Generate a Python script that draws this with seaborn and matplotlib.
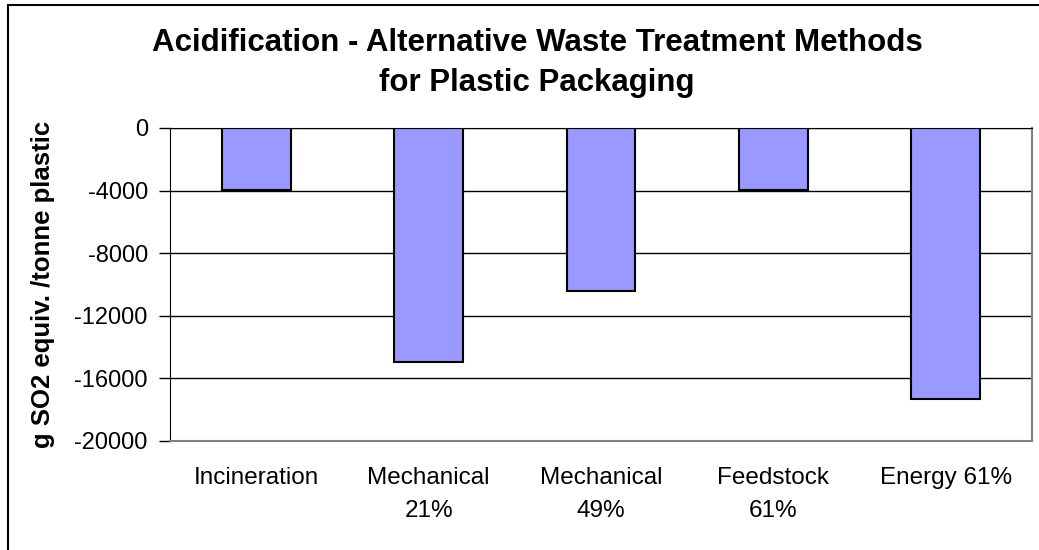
import seaborn as sns
import matplotlib.pyplot as plt
from matplotlib.lines import Line2D
import pandas as pd

# values
methods = ["Incineration", "Mechanical\n21%", "Mechanical\n49%", "Feedstock\n61%", "Energy 61%"]
acidification = [-3950, -14950, -10450, -3950, -17350]
y_ticks = [0, -4000, -8000, -12000, -16000, -20000]

df = pd.DataFrame({"method": methods, "value": acidification})

sns.set_style("white")
plt.rcParams["font.family"] = ["Liberation Sans", "DejaVu Sans"]
plt.rcParams["text.color"] = "black"
plt.rcParams["xtick.color"] = "black"
plt.rcParams["ytick.color"] = "black"
plt.rcParams["axes.labelcolor"] = "black"

fig = plt.figure(figsize=(10.39, 5.5), dpi=100)
ax = fig.add_axes([0.1636, 0.1987, 0.8297, 0.5686])

sns.barplot(data=df, x="method", y="value", color="#9999FF", saturation=1,
            edgecolor="black", linewidth=1.5, width=0.4, ax=ax)

ax.set_ylim(-20000, 0)
ax.set_xlim(-0.5, len(methods) - 0.5)
ax.set_yticks(y_ticks)
ax.set_yticklabels([str(t) for t in y_ticks])
ax.yaxis.grid(True, color="black", linewidth=1)
ax.set_axisbelow(True)

ax.tick_params(axis="y", direction="out", length=8, width=1,
               labelsize=17, pad=8, left=True)
ax.tick_params(axis="x", length=0, labelsize=17.5, pad=19)
for lbl in ax.get_xticklabels():
    lbl.set_linespacing(1.65)
    lbl.set_verticalalignment("top")

ax.set_xlabel("")
ax.set_ylabel("g SO2 equiv. /tonne plastic", fontsize=18.5, fontweight="bold", labelpad=14)

for side in ["right", "bottom"]:
    ax.spines[side].set_color("#808080")
    ax.spines[side].set_linewidth(1.5)
ax.spines["left"].set_color("black")
ax.spines["top"].set_color("black")

fig.text(0.517, 0.886, "Acidification - Alternative Waste Treatment Methods\nfor Plastic Packaging",
         ha="center", va="center", fontsize=22.5, fontweight="bold", linespacing=1.45)

# outer chart frame (left and top edges visible in the reference)
fig.add_artist(Line2D([8 / 1039, 8 / 1039], [0, 1 - 5 / 550], color="black", linewidth=1.5))
fig.add_artist(Line2D([8 / 1039, 1], [1 - 5 / 550, 1 - 5 / 550], color="black", linewidth=1.5))

fig.savefig("out.png", dpi=100)
plt.close(fig)
